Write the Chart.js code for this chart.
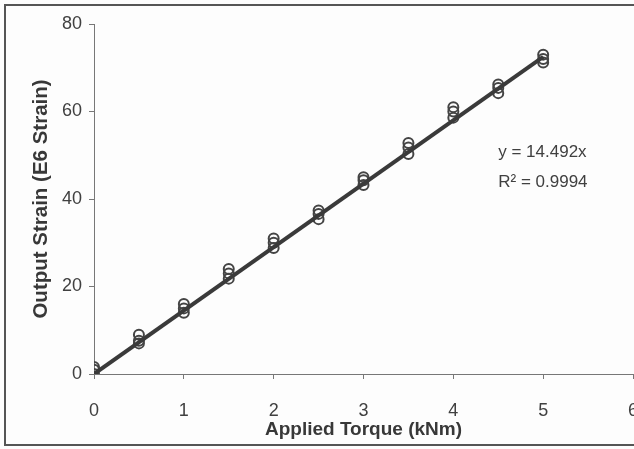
<!DOCTYPE html>
<html>
<head>
<meta charset="utf-8">
<script src="https://cdn.jsdelivr.net/npm/chart.js@4/dist/chart.umd.min.js"></script>
<style>
  html, body { margin: 0; padding: 0; background: #fdfdfd; overflow: hidden; }
  #wrap { position: relative; width: 660px; height: 449px; }
</style>
</head>
<body>
<div id="wrap"><canvas id="strainChart"></canvas></div>
<script>
/*************************************************
 * DATA
 *************************************************/
const torque = [0, 0.5, 1, 1.5, 2, 2.5, 3, 3.5, 4, 4.5, 5];
const run1 = [0, 7, 14, 21.8, 28.8, 35.4, 43.2, 50.3, 58.6, 64.2, 71.2];
const run2 = [1, 7.6, 15, 23, 30, 36.6, 44.3, 51.8, 60, 65.4, 72];
const run3 = [1.6, 9, 16, 24, 31, 37.4, 45, 52.8, 61, 66.2, 73];

// Excel linear trendline through origin
const trendX = [0, 5];
const trendY = [0, 72.46];

const xTicks = [0, 1, 2, 3, 4, 5, 6];
const yTicks = [0, 20, 40, 60, 80];

const eqLines = ["y = 14.492x", "R\u00B2 = 0.9994"];
const eqPos = [[4.5, 50.7], [4.5, 43.9]];

/*************************************************
 * BUILD
 *************************************************/
const points = [];
[run1, run2, run3].forEach(run => {
  run.forEach((v, i) => points.push({ x: torque[i], y: v }));
});
const trend = trendX.map((x, i) => ({ x, y: trendY[i] }));

const TEXT = "#404040";
const FONT = "'Liberation Sans', Arial, sans-serif";

/*************************************************
 * PLUGINS
 *************************************************/
const frame = {
  id: "frame",
  beforeDraw(chart) {
    const ctx = chart.ctx;
    ctx.save();
    ctx.fillStyle = "#fdfdfd";
    ctx.fillRect(0, 0, chart.width, chart.height);
    ctx.strokeStyle = "#555";
    ctx.lineWidth = 2;
    ctx.strokeRect(5, 5, chart.width + 20, 440);
    ctx.restore();
  }
};

const equation = {
  id: "equation",
  afterDraw(chart) {
    const { ctx, scales } = chart;
    ctx.save();
    ctx.fillStyle = TEXT;
    ctx.font = "17px " + FONT;
    ctx.textBaseline = "middle";
    eqLines.forEach((t, i) => {
      ctx.fillText(t, scales.x.getPixelForValue(eqPos[i][0]), scales.y.getPixelForValue(eqPos[i][1]));
    });
    ctx.restore();
  }
};

/*************************************************
 * CHART
 *************************************************/
new Chart(document.getElementById("strainChart"), {
  type: "scatter",
  data: {
    datasets: [
      {
        type: "line",
        data: trend,
        borderColor: "#3a3a3a",
        borderWidth: 4,
        pointRadius: 0,
        fill: false,
        order: 0
      },
      {
        data: points,
        pointStyle: "circle",
        pointRadius: 5,
        borderWidth: 2,
        borderColor: "#444",
        backgroundColor: "rgba(0,0,0,0)",
        order: 1
      }
    ]
  },
  options: {
    responsive: true,
    maintainAspectRatio: false,
    animation: false,
    layout: { padding: { left: 5, right: 27, top: 24, bottom: 5 } },
    plugins: { legend: { display: false }, tooltip: { enabled: false } },
    scales: {
      x: {
        type: "linear",
        min: 0,
        max: 6,
        afterBuildTicks: s => { s.ticks = xTicks.map(v => ({ value: v })); },
        afterFit: s => { s.height = 70; },
        grid: { drawOnChartArea: false, drawTicks: true, tickLength: 5, color: "#777" },
        border: { display: true, color: "#777", width: 1 },
        ticks: { color: TEXT, padding: 21, font: { family: FONT, size: 18 } },
        title: {
          display: true,
          text: "Applied Torque (kNm)",
          color: "#383838",
          font: { family: FONT, size: 19, weight: "bold" },
          padding: { top: 0, bottom: 3 }
        }
      },
      y: {
        type: "linear",
        min: 0,
        max: 80,
        afterBuildTicks: s => { s.ticks = yTicks.map(v => ({ value: v })); },
        afterFit: s => { s.width = 89; },
        grid: { drawOnChartArea: false, drawTicks: true, tickLength: 5, color: "#777" },
        border: { display: true, color: "#777", width: 1 },
        ticks: { color: TEXT, padding: 7, font: { family: FONT, size: 18 } },
        title: {
          display: true,
          text: "Output Strain (E6 Strain)",
          color: "#383838",
          font: { family: FONT, size: 20.5, weight: "bold" },
          padding: { top: 24, bottom: 0 }
        }
      }
    }
  },
  plugins: [frame, equation]
});
</script>
</body>
</html>
